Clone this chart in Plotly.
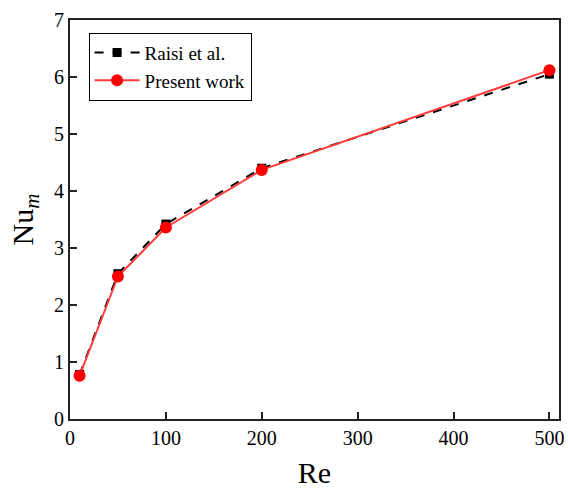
import plotly.graph_objects as go

re_vals = [10, 50, 100, 200, 500]
raisi = [0.78, 2.55, 3.42, 4.40, 6.05]
present = [0.76, 2.50, 3.36, 4.37, 6.12]

font_family = "Times New Roman, Liberation Serif, serif"

fig = go.Figure()
fig.add_trace(go.Scatter(
    x=re_vals, y=raisi, name="Raisi et al.", mode="lines+markers",
    line=dict(color="black", width=2, dash="dash"),
    marker=dict(symbol="square", size=9, color="black"),
))
fig.add_trace(go.Scatter(
    x=re_vals, y=present, name="Present work", mode="lines+markers",
    line=dict(color="#ff3b3b", width=2),
    marker=dict(symbol="circle", size=12, color="red"),
))

axis_common = dict(
    showline=True, linecolor="#222", linewidth=2, mirror=True,
    ticks="inside", ticklen=7, tickwidth=1.5, tickcolor="#222",
    showgrid=False, zeroline=False,
    tickfont=dict(family=font_family, size=20, color="black"),
)

fig.update_layout(
    width=568, height=489,
    margin=dict(l=70, r=4, t=20, b=70),
    paper_bgcolor="white", plot_bgcolor="white",
    font=dict(family=font_family, color="black", size=20),
    xaxis=dict(range=[0, 510], tickvals=[0, 100, 200, 300, 400, 500],
               title=dict(text="Re", font=dict(family=font_family, size=30), standoff=14),
               **axis_common),
    yaxis=dict(range=[0, 7], tickvals=[0, 1, 2, 3, 4, 5, 6, 7],
               title=dict(text="Nu<sub><i>m</i></sub>", font=dict(family=font_family, size=30), standoff=12),
               **axis_common),
    legend=dict(x=0.038, y=0.968, xanchor="left", yanchor="top",
                bgcolor="white", bordercolor="black", borderwidth=1,
                font=dict(family=font_family, size=19),
                tracegroupgap=0, itemwidth=45),
    showlegend=True,
)

fig.write_html("out.html")
